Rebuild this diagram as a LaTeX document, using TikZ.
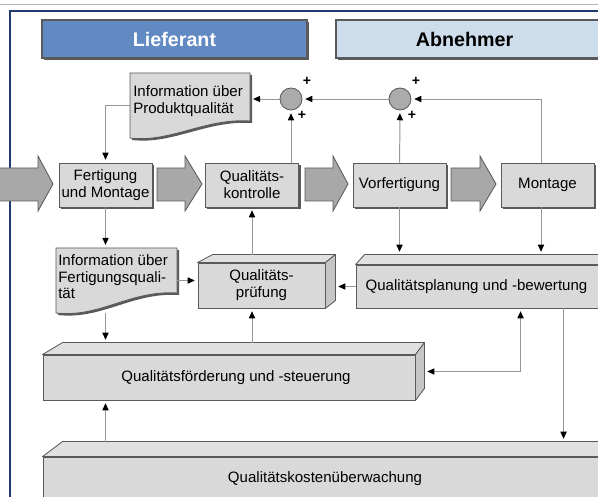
\documentclass[tikz,border=0pt]{standalone}
\usepackage{fontspec}
\setmainfont{Liberation Sans}
\usetikzlibrary{arrows.meta,calc,shadows}

\definecolor{framenavy}{HTML}{1F3B70}
\definecolor{topline}{HTML}{B4B4B4}
\definecolor{liefblue}{HTML}{6189C2}
\definecolor{abnblue}{HTML}{CEDDEC}
\definecolor{boxfill}{HTML}{D9D9D9}
\definecolor{topfill}{HTML}{E0E0E0}
\definecolor{sidefill}{HTML}{C6C6C6}
\definecolor{edge}{HTML}{5A5A5A}
\definecolor{linegray}{HTML}{969696}
\definecolor{arrowfill}{HTML}{A8A8A8}
\definecolor{sumfill}{HTML}{ABABAB}

\tikzset{
  ctip/.tip={Triangle[length=5pt,width=4.4pt,black]},
  txt/.style={font=\fontsize{10.7}{12}\selectfont},
  boxshadow/.style={drop shadow={shadow xshift=0.05cm, shadow yshift=-0.05cm, fill=edge, opacity=1}},
  header/.style={draw=edge, line width=0.8pt, minimum height=0.95cm, boxshadow},
  headtext/.style={font=\fontsize{14}{16}\selectfont\bfseries},
  box/.style={txt, draw=edge, fill=boxfill, line width=0.6pt, minimum width=2.325cm, minimum height=1.1cm, align=center, inner sep=1pt, boxshadow},
  slab/.style={txt, draw=edge, fill=boxfill, line width=0.6pt, align=center, inner sep=1pt},
  slabtop/.style={draw=edge, fill=topfill, line width=0.6pt, line join=round},
  slabside/.style={draw=edge, fill=sidefill, line width=0.6pt, line join=round},
  docarea/.style={inner sep=0pt},
  doc/.style={draw=edge, fill=boxfill, line width=0.6pt, boxshadow},
  doctext/.style={txt, align=left, anchor=north west, inner sep=0pt},
  sum/.style={circle, draw=edge, fill=sumfill, minimum size=0.55cm, inner sep=0pt, line width=0.6pt},
  plus/.style={font=\fontsize{10}{10}\selectfont\bfseries, inner sep=0pt},
  conn/.style={draw=linegray, line width=0.7pt, -ctip, shorten >=0.07cm},
  conntwo/.style={draw=linegray, line width=0.7pt, ctip-ctip, shorten >=0.07cm, shorten <=0.07cm},
  bigarrow/.style={draw=edge, fill=arrowfill, line width=0.6pt},
}

% top and right face of a 3d block: name, left dx, right dx, dy
\newcommand{\slabfaces}[4]{%
  \draw[slabtop] (#1.north west) -- ++(#2,-#4) -- ($(#1.north east)+(#3,-#4)$) -- (#1.north east) -- cycle;
  \draw[slabside] (#1.north east) -- ++(#3,-#4) -- ($(#1.south east)+(#3,-#4)$) -- (#1.south east) -- cycle;
  \coordinate (#1-top) at ($(#1.north)+(0,-#4)$);
  \coordinate (#1-side) at ($(#1.east)+(#3,-#4/2)$);
}

\begin{document}
\begin{tikzpicture}[x=0.025cm, y=-0.025cm]
  \useasboundingbox (0,0) rectangle (598,497);
  \clip (0,0) rectangle (598,497);
  \fill[white] (0,0) rectangle (598,497);
  \draw[topline, line width=0.7pt] (0,4) -- (598,4);
  \draw[framenavy, line width=1.4pt] (10,500) -- (10,11) -- (620,11);

  % headers
  \node[header, fill=liefblue, minimum width=6.625cm] (lief) at (174.5,39) {};
  \node[headtext, text=white] at (lief) {Lieferant};
  \node[header, fill=abnblue, minimum width=7.6cm] (abn) at (488,39) {};
  \node[headtext] at (464.5,39) {Abnehmer};

  % material flow
  \foreach \xa/\xb/\xc in {-5/38/53, 157/185/202, 305/333/348, 451/480/496}
    \draw[bigarrow] (\xa,168) -- (\xb,168) -- (\xb,156) -- (\xc,184) -- (\xb,211) -- (\xb,201) -- (\xa,201) -- cycle;

  \node[box] (fert) at (105.5,185) {Fertigung\\und Montage};
  \node[box] (kontr) at (252,185) {Qualitäts-\\kontrolle};
  \node[box] (vorf) at (399.5,185) {Vorfertigung};
  \node[box] (mont) at (547.5,185) {Montage};

  % summing points
  \node[sum] (c1) at (291,99) {};
  \node[sum] (c2) at (400,99) {};
  \node[plus] at ($(c1)+(16,-18)$) {+};
  \node[plus] at ($(c1)+(11,16)$) {+};
  \node[plus] at ($(c2)+(16,-18)$) {+};
  \node[plus] at ($(c2)+(12,16)$) {+};

  % documents
  \node[docarea, minimum width=3cm, minimum height=1.625cm] (infoprod) at (190,105.5) {};
  \draw[doc] (130,73) -- (250,73) -- (250,121) .. controls (205,118) and (170,143) .. (130,138) -- cycle;
  \node[doctext] at (133,85) {Information über\\Produktqualität};

  \node[docarea, minimum width=3.025cm, minimum height=1.625cm] (infofert) at (116.5,280.5) {};
  \draw[doc] (56,248) -- (177,248) -- (177,293) .. controls (130,290) and (100,318) .. (56,313) -- cycle;
  \node[doctext] at (58,254) {Information über\\Fertigungsquali-\\tät};

  % blocks
  \node[slab, minimum width=3.175cm, minimum height=1.125cm] (pruef) at (261.5,285.5) {Qualitäts-\\prüfung};
  \slabfaces{pruef}{15}{10}{8}
  \node[slab, minimum width=6.6cm, minimum height=1.075cm] (plan) at (488,286.5) {};
  \slabfaces{plan}{9}{10}{10}
  \node[txt] at (476.5,286.5) {Qualitätsplanung und -bewertung};
  \node[slab, minimum width=9.3cm, minimum height=1.125cm] (foerd) at (229,377.5) {};
  \slabfaces{foerd}{20}{9}{12}
  \node[txt] at (236,377.5) {Qualitätsförderung und -steuerung};
  \node[slab, minimum width=14.6cm, minimum height=1.1cm] (kost) at (335,479) {};
  \slabfaces{kost}{20}{10}{15}
  \node[txt] at (325,479) {Qualitätskostenüberwachung};

  % information flow
  \draw[conn] (c2) -- (c1);
  \draw[conn] (c1) -- (infoprod.east |- c1);
  \draw[conn] (infoprod.west) -| (fert.north);
  \draw[conn] (kontr.north -| c1) -- (c1);
  \draw[conn] (vorf) -- (c2);
  \draw[conn] ($(mont.north)+(-6.5,0)$) |- (c2);
  \draw[conn] (fert.south) -- (fert.south |- infofert.north);
  \draw[conn] (infofert.east) -- (pruef.west |- infofert.east);
  \draw[conn] (pruef-top -| kontr.south) -- (kontr.south);
  \draw[conn] (foerd-top -| kontr.south) -- (pruef.south -| kontr.south);
  \draw[conn] (plan.west) -- (pruef-side |- plan.west);
  \draw[conn] (vorf.south) -- (vorf.south |- plan-top);
  \draw[conn] ($(mont.south)+(-6.5,0)$) coordinate (ms) -- (ms |- plan-top);
  \draw[conntwo] ($(plan.south west)+(165,0)$) |- (foerd-side);
  \draw[conn] ($(plan.south west)+(208,0)$) coordinate (ps) -- (ps |- kost-top);
  \draw[conn] (infofert.south -| fert.south) -- (foerd-top -| fert.south);
  \draw[conn] (kost-top -| fert.south) -- (foerd.south -| fert.south);
\end{tikzpicture}
\end{document}
